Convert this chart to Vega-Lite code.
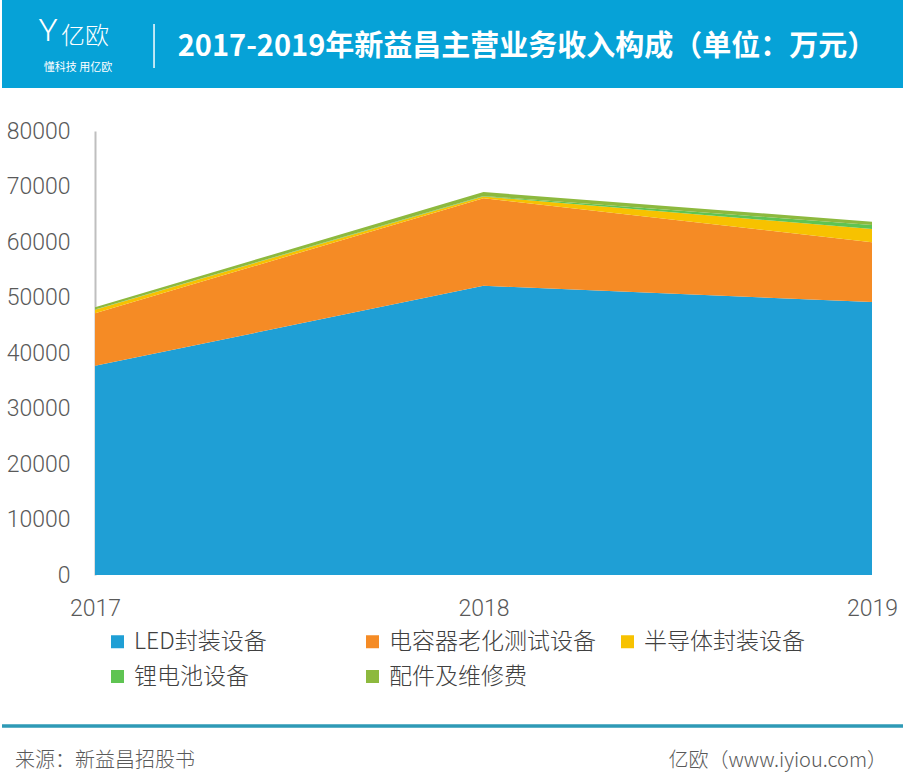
{
  "$schema": "https://vega.github.io/schema/vega-lite/v6.json",
  "background": "white",
  "padding": 0,
  "spacing": 32,
  "config": {"view": {"stroke": null}},
  "vconcat": [
    {
      "width": 903,
      "height": 88,
      "view": {"fill": "#06a2d7", "stroke": null},
      "data": {"values": [
        {"t": "2017-2019年新益昌主营业务收入构成（单位：万元）", "kind": "title"},
        {"t": "亿欧", "kind": "logo"},
        {"t": "懂科技 用亿欧", "kind": "slogan"},
        {"t": "Y", "kind": "icon"},
        {"t": "|", "kind": "sep"}
      ]},
      "layer": [
        {
          "transform": [{"filter": "datum.kind == 'title'"}],
          "mark": {"type": "text", "font": "Noto Sans CJK SC", "fontWeight": "bold", "fontSize": 29, "color": "white", "align": "center", "baseline": "middle", "dx": 73.5, "dy": 3},
          "encoding": {"text": {"field": "t"}}
        },
        {
          "transform": [{"filter": "datum.kind == 'logo'"}],
          "mark": {"type": "text", "font": "Noto Sans CJK SC", "fontWeight": 300, "fontSize": 24, "color": "white", "align": "center", "baseline": "middle", "dx": -368.5, "dy": -7},
          "encoding": {"text": {"field": "t"}}
        },
        {
          "transform": [{"filter": "datum.kind == 'slogan'"}],
          "mark": {"type": "text", "font": "Noto Sans CJK SC", "fontSize": 11, "color": "white", "align": "center", "baseline": "middle", "dx": -375.5, "dy": 23.5},
          "encoding": {"text": {"field": "t"}}
        },
        {
          "transform": [{"filter": "datum.kind == 'icon'"}],
          "mark": {"type": "text", "font": "Roboto", "fontWeight": 300, "fontSize": 32, "color": "white", "align": "center", "baseline": "middle", "dx": -405.5, "dy": -13},
          "encoding": {"text": {"field": "t"}}
        },
        {
          "transform": [{"filter": "datum.kind == 'sep'"}],
          "mark": {"type": "text", "font": "Roboto", "fontWeight": 100, "fontSize": 52, "color": "white", "align": "center", "baseline": "middle", "dx": -299.5, "dy": 1},
          "encoding": {"text": {"field": "t"}}
        }
      ]
    },
    {
      "width": 870,
      "height": 444,
      "view": {"stroke": null},
      "data": {"values": [
        {"year": 2017, "category": "LED封装设备", "k": 1, "value": 37700},
        {"year": 2017, "category": "电容器老化测试设备", "k": 2, "value": 9450},
        {"year": 2017, "category": "半导体封装设备", "k": 3, "value": 650},
        {"year": 2017, "category": "锂电池设备", "k": 4, "value": 50},
        {"year": 2017, "category": "配件及维修费", "k": 5, "value": 400},
        {"year": 2018, "category": "LED封装设备", "k": 1, "value": 52100},
        {"year": 2018, "category": "电容器老化测试设备", "k": 2, "value": 15800},
        {"year": 2018, "category": "半导体封装设备", "k": 3, "value": 300},
        {"year": 2018, "category": "锂电池设备", "k": 4, "value": 100},
        {"year": 2018, "category": "配件及维修费", "k": 5, "value": 700},
        {"year": 2019, "category": "LED封装设备", "k": 1, "value": 49200},
        {"year": 2019, "category": "电容器老化测试设备", "k": 2, "value": 10750},
        {"year": 2019, "category": "半导体封装设备", "k": 3, "value": 2400},
        {"year": 2019, "category": "锂电池设备", "k": 4, "value": 700},
        {"year": 2019, "category": "配件及维修费", "k": 5, "value": 600}
      ]},
      "mark": {"type": "area", "opacity": 1},
      "encoding": {
        "x": {
          "field": "year", "type": "quantitative",
          "scale": {"domain": [2016.7606, 2019], "nice": false, "zero": false},
          "axis": {"values": [2017, 2018, 2019], "format": "d", "title": null, "grid": false, "ticks": false, "domain": false, "labelFlush": false, "labelPadding": 22, "labelFont": "Roboto", "labelFontWeight": 300, "labelFontSize": 23, "labelColor": "#595959", "labelBaseline": "top"}
        },
        "y": {
          "field": "value", "type": "quantitative", "aggregate": "sum", "stack": "zero",
          "scale": {"domain": [0, 80000], "nice": false},
          "axis": {"values": [0, 10000, 20000, 30000, 40000, 50000, 60000, 70000, 80000], "format": "d", "title": null, "grid": false, "ticks": false, "domain": true, "domainColor": "#bfbfbf", "domainWidth": 2, "offset": -93, "labelPadding": 25, "labelFont": "Roboto", "labelFontWeight": 300, "labelFontSize": 23, "labelColor": "#595959", "minExtent": 0}
        },
        "order": {"field": "k", "type": "quantitative", "sort": "ascending"},
        "color": {
          "field": "category", "type": "nominal",
          "scale": {
            "domain": ["LED封装设备", "电容器老化测试设备", "半导体封装设备", "锂电池设备", "配件及维修费"],
            "range": ["#1f9fd5", "#f58b25", "#f7c200", "#5fc452", "#8db93e"]
          },
          "legend": {
            "title": null, "orient": "none", "legendX": 96, "legendY": 622, "padding": 8,
            "direction": "horizontal",
            "columns": 3, "gridAlign": "all", "columnPadding": 20, "rowPadding": 11,
            "symbolType": "square", "symbolSize": 169, "symbolStrokeWidth": 0, "labelOffset": 5,
            "labelFont": "Noto Sans CJK SC", "labelFontWeight": 300, "labelFontSize": 23, "labelColor": "#404040", "labelLimit": 400
          }
        }
      }
    },
    {
      "width": 903,
      "height": 130,
      "view": {"stroke": null},
      "data": {"values": [
        {"t": "来源：新益昌招股书", "side": "left"},
        {"t": "亿欧（www.iyiou.com）", "side": "right"}
      ]},
      "layer": [
        {
          "mark": {"type": "rule", "color": "#2e9ab6", "strokeWidth": 3},
          "encoding": {"y": {"datum": 56, "type": "quantitative", "scale": {"domain": [0, 130], "nice": false}, "axis": null}}
        },
        {
          "transform": [{"filter": "datum.side == 'left'"}],
          "mark": {"type": "text", "font": "Noto Sans CJK SC", "fontWeight": 300, "fontSize": 20, "color": "#595959", "align": "left", "baseline": "middle", "dx": -438.5},
          "encoding": {"text": {"field": "t"}, "y": {"datum": 21, "type": "quantitative"}}
        },
        {
          "transform": [{"filter": "datum.side == 'right'"}],
          "mark": {"type": "text", "font": "Noto Sans CJK SC", "fontWeight": 300, "fontSize": 20, "color": "#595959", "align": "right", "baseline": "middle", "dx": 433.5},
          "encoding": {"text": {"field": "t"}, "y": {"datum": 21, "type": "quantitative"}}
        }
      ]
    }
  ]
}
